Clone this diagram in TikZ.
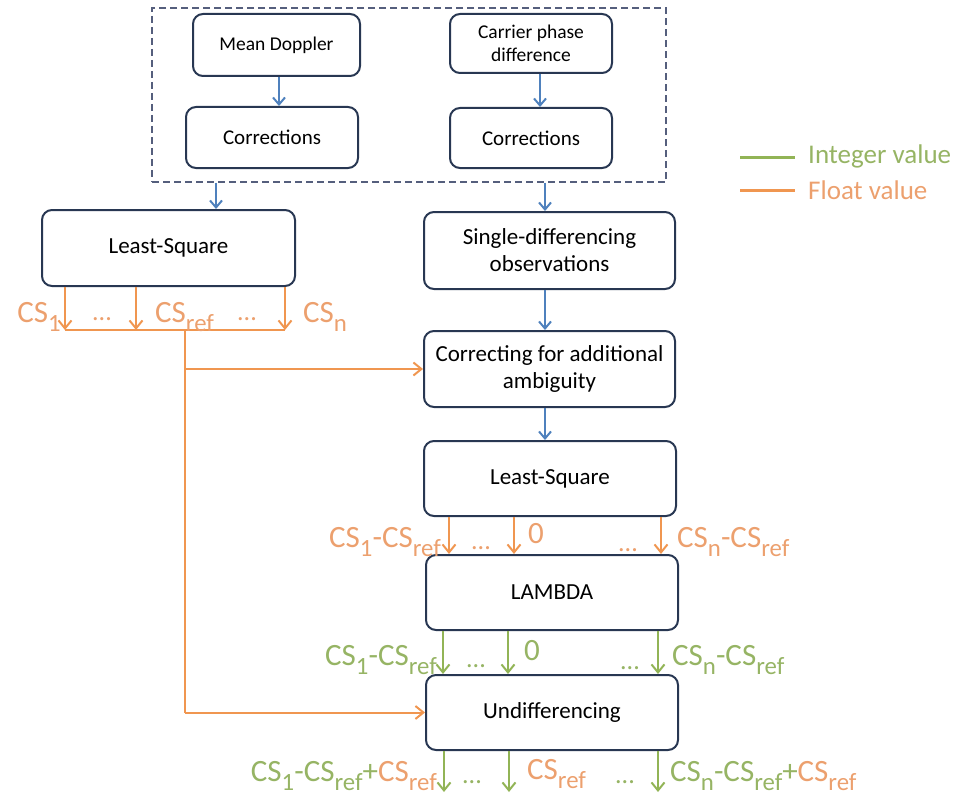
\documentclass[tikz,border=0pt]{standalone}
\usepackage{fontspec}
\setmainfont{Carlito}
\usetikzlibrary{arrows.meta}
\definecolor{boxc}{RGB}{40,55,82}
\definecolor{bluec}{RGB}{79,129,189}
\definecolor{orc}{RGB}{240,150,80}
\definecolor{ortx}{RGB}{236,160,110}
\definecolor{grc}{RGB}{146,180,86}
\definecolor{grtx}{RGB}{150,180,100}
\definecolor{dashc}{RGB}{85,95,125}
\newcommand{\sbx}[1]{\raisebox{-0.3em}{\scalebox{0.8}{#1}}}
\begin{document}
\begin{tikzpicture}[x=1pt,y=-1pt,
  procbox/.style={draw=boxc,line width=2pt,rounded corners=10pt,fill=white,align=center,inner sep=0pt,font=\fontsize{23}{27}\selectfont},
  smallbox/.style={procbox,font=\fontsize{19.5}{23}\selectfont},
  corbox/.style={procbox,font=\fontsize{21}{25}\selectfont},
  bluearrow/.style={draw=bluec,line width=2pt,-{Straight Barb[length=7pt,width=12pt,line width=2pt]}},
  orarrow/.style={draw=orc,line width=2pt,-{Straight Barb[length=8pt,width=13pt,line width=2pt]}},
  grarrow/.style={draw=grc,line width=2pt,-{Straight Barb[length=8pt,width=13pt,line width=2pt]}},
  orline/.style={draw=orc,line width=2pt},
  orlab/.style={text=ortx,inner sep=0pt,font=\fontsize{31}{34}\selectfont},
  grlab/.style={text=grtx,inner sep=0pt,font=\fontsize{31}{34}\selectfont},
  ordots/.style={text=ortx,inner sep=0pt,font=\fontsize{26}{30}\selectfont,anchor=base},
  grdots/.style={text=grtx,inner sep=0pt,font=\fontsize{26}{30}\selectfont,anchor=base},
]
\useasboundingbox (0,0) rectangle (954,800);
% group box
\node[draw=dashc,dash pattern=on 7pt off 4pt,line width=1.3pt,minimum width=514pt,minimum height=174pt,inner sep=0pt] (group) at (409,95) {};
\node[smallbox,minimum width=167pt,minimum height=62pt] (md) at (276.5,45) {Mean Doppler};
\node[corbox,minimum width=172pt,minimum height=61pt] (corl) at (272,137.5) {Corrections};
\node[smallbox,minimum width=162pt,minimum height=59pt] (cp) at (531,43.5) {Carrier phase\\difference};
\node[corbox,minimum width=162pt,minimum height=60pt] (corr) at (531,138) {Corrections};
% main boxes
\node[procbox,minimum width=253pt,minimum height=76pt] (lsl) at (168.5,248) {Least-Square};
\node[procbox,minimum width=251pt,minimum height=77pt] (sd) at (549.5,250.5) {Single-differencing\\observations};
\node[procbox,minimum width=251pt,minimum height=76pt] (cor) at (549.5,369) {Correcting for additional\\ambiguity};
\node[procbox,minimum width=252pt,minimum height=75pt] (lsr) at (550,478.5) {Least-Square};
\node[procbox,minimum width=252pt,minimum height=75pt] (lam) at (552,592.5) {LAMBDA};
\node[procbox,minimum width=252pt,minimum height=75pt] (und) at (552,712.5) {Undifferencing};
% blue arrows
\draw[bluearrow] (md.south -| 279,0) -- (corl.north -| 279,0);
\draw[bluearrow] (cp.south -| 540,0) -- (corr.north -| 540,0);
\draw[bluearrow] (group.south -| 216,0) -- (lsl.north -| 216,0);
\draw[bluearrow] (group.south -| 545,0) -- (sd.north -| 545,0);
\draw[bluearrow] (sd.south -| 545,0) -- (cor.north -| 545,0);
\draw[bluearrow] (cor.south -| 545,0) -- (lsr.north -| 545,0);
% orange outputs of left LS
\coordinate (h1) at (65,330);
\coordinate (h2) at (136,330);
\coordinate (h3) at (285,330);
\coordinate (tr) at (185,330);
\draw[orline] (h1) -- (h3);
\draw[orarrow] (lsl.south -| h1) -- (h1);
\draw[orarrow] (lsl.south -| h2) -- (h2);
\draw[orarrow] (lsl.south -| h3) -- (h3);
\draw[orline] (tr) -- (tr |- und.west);
\draw[orarrow] (tr |- cor.west) -- (cor.west);
\draw[orarrow] (tr |- und.west) -- (und.west);
\node[orlab,anchor=base east] (l1) at (61,322) {CS\sbx{1}};
\node[ordots] (d1) at (102,320) {...};
\node[orlab,anchor=base west] (l2) at (155,322) {CS\sbx{ref}};
\node[ordots] (d2) at (247,320) {...};
\node[orlab,anchor=base west] (l3) at (303,322) {CS\sbx{n}};
% orange outputs of right LS
\draw[orarrow] (lsr.south -| 449,0) -- (lam.north -| 449,0);
\draw[orarrow] (lsr.south -| 514,0) -- (lam.north -| 514,0);
\draw[orarrow] (lsr.south -| 661,0) -- (lam.north -| 661,0);
\node[orlab,anchor=base east] (m1) at (441,547) {CS\sbx{1}-CS\sbx{ref}};
\node[ordots] (md1) at (481,549) {...};
\node[orlab,anchor=base west] (m2) at (528,543) {0};
\node[ordots] (md2) at (628,551) {...};
\node[orlab,anchor=base west] (m3) at (677,547) {CS\sbx{n}-CS\sbx{ref}};
% green outputs of LAMBDA
\draw[grarrow] (lam.south -| 443,0) -- (und.north -| 443,0);
\draw[grarrow] (lam.south -| 508,0) -- (und.north -| 508,0);
\draw[grarrow] (lam.south -| 658,0) -- (und.north -| 658,0);
\node[grlab,anchor=base east] (n1) at (437,665) {CS\sbx{1}-CS\sbx{ref}};
\node[grdots] (nd1) at (476,667) {...};
\node[grlab,anchor=base west] (n2) at (524,660) {0};
\node[grdots] (nd2) at (630,669) {...};
\node[grlab,anchor=base west] (n3) at (672,665) {CS\sbx{n}-CS\sbx{ref}};
% outputs of Undifferencing
\coordinate (u1) at (444,792);
\coordinate (u2) at (509,792);
\coordinate (u3) at (658,792);
\draw[grarrow] (und.south -| u1) -- (u1);
\draw[grarrow] (und.south -| u2) -- (u2);
\draw[grarrow] (und.south -| u3) -- (u3);
\node[anchor=base east,inner sep=0pt,font=\fontsize{31}{34}\selectfont] (o1) at (437,781) {\textcolor{grtx}{CS\sbx{1}-CS\sbx{ref}+}\textcolor{ortx}{CS\sbx{ref}}};
\node[grdots] (od1) at (472,783) {...};
\node[orlab,anchor=base west] (o2) at (527,779) {CS\sbx{ref}};
\node[grdots] (od2) at (625,783) {...};
\node[anchor=base west,inner sep=0pt,font=\fontsize{31}{34}\selectfont] (o3) at (670,781) {\textcolor{grtx}{CS\sbx{n}-CS\sbx{ref}+}\textcolor{ortx}{CS\sbx{ref}}};
% legend
\coordinate (lg1) at (740,157);
\coordinate (lg2) at (795,157);
\coordinate (lo1) at (740,190);
\coordinate (lo2) at (795,190);
\draw[draw=grc,line width=3pt] (lg1) -- (lg2);
\draw[draw=orc,line width=3pt] (lo1) -- (lo2);
\node[grlab,anchor=west,font=\fontsize{27}{30}\selectfont] (lgt) at (808,156) {Integer value};
\node[orlab,anchor=west,font=\fontsize{27}{30}\selectfont] (lot) at (808,190) {Float value};
\end{tikzpicture}
\end{document}
